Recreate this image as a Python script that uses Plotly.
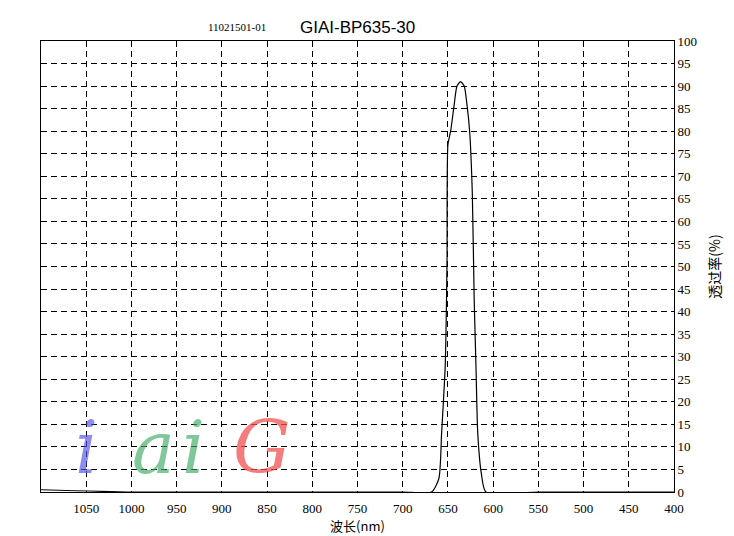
import plotly.graph_objects as go

wavelength = [1100, 1000, 900, 800, 700, 668, 660, 657, 653, 651, 650, 647, 643, 640, 636, 632, 629, 626, 623, 621, 619, 617, 613, 608, 550, 500, 450, 400]
transmit = [0.5, 0, 0, 0, 0, 0, 3, 13, 28, 51, 77, 80, 86, 90, 91, 90, 86, 80, 66, 43, 28, 13, 4, 0, 0, 0, 0, 0]
x_ticks = list(range(400, 1051, 50))
y_ticks = list(range(0, 101, 5))

fig = go.Figure(go.Scatter(x=wavelength, y=transmit, mode="lines",
                           line=dict(color="black", width=1.2, shape="spline", smoothing=0.6)))
font = dict(family="Liberation Serif", size=13, color="black")
fig.update_layout(
    width=734, height=536, margin=dict(l=33, r=68, t=33, b=52),
    plot_bgcolor="white", paper_bgcolor="white", showlegend=False, font=font,
    xaxis=dict(range=[1100, 400], tickvals=x_ticks, showgrid=True, gridcolor="black",
               griddash="6px,4px", gridwidth=1, showline=True, linecolor="black", mirror=True,
               zeroline=False, ticks="", ticklabelstandoff=4, title=dict(text="波长(nm)", standoff=0,
               font=dict(family="Noto Sans CJK SC", size=13))),
    yaxis=dict(range=[0, 100], side="right", tickvals=y_ticks, showgrid=True, gridcolor="black",
               griddash="6px,4px", gridwidth=1, showline=True, linecolor="black", mirror=True,
               zeroline=False, ticks="", title=dict(text="透过率(%)", standoff=14,
               font=dict(family="Noto Sans CJK SC", size=14))),
    annotations=[
        dict(text="GIAI-BP635-30", x=0.5, y=1.0, xref="paper", yref="paper", yanchor="bottom",
             xanchor="center", showarrow=False, font=dict(family="Liberation Sans", size=17), yshift=2),
        dict(text="11021501-01", x=(205 - 40) / 632, y=1.0, xref="paper", yref="paper",
             yanchor="bottom", showarrow=False, font=dict(family="Liberation Serif", size=11), yshift=6),
    ],
)
for ch, col, xp in [("G", "rgba(240,80,80,0.75)", 0.3), ("i", "rgba(60,170,100,0.65)", 0.22),
                    ("a", "rgba(60,170,100,0.65)", 0.14), ("i", "rgba(80,80,230,0.65)", 0.05)]:
    fig.add_annotation(text="<i>" + ch + "</i>", x=xp, y=0.0, xref="paper", yref="paper", yanchor="bottom",
                       showarrow=False, font=dict(family="DejaVu Serif", size=72, color=col))
fig.write_html("out.html")
